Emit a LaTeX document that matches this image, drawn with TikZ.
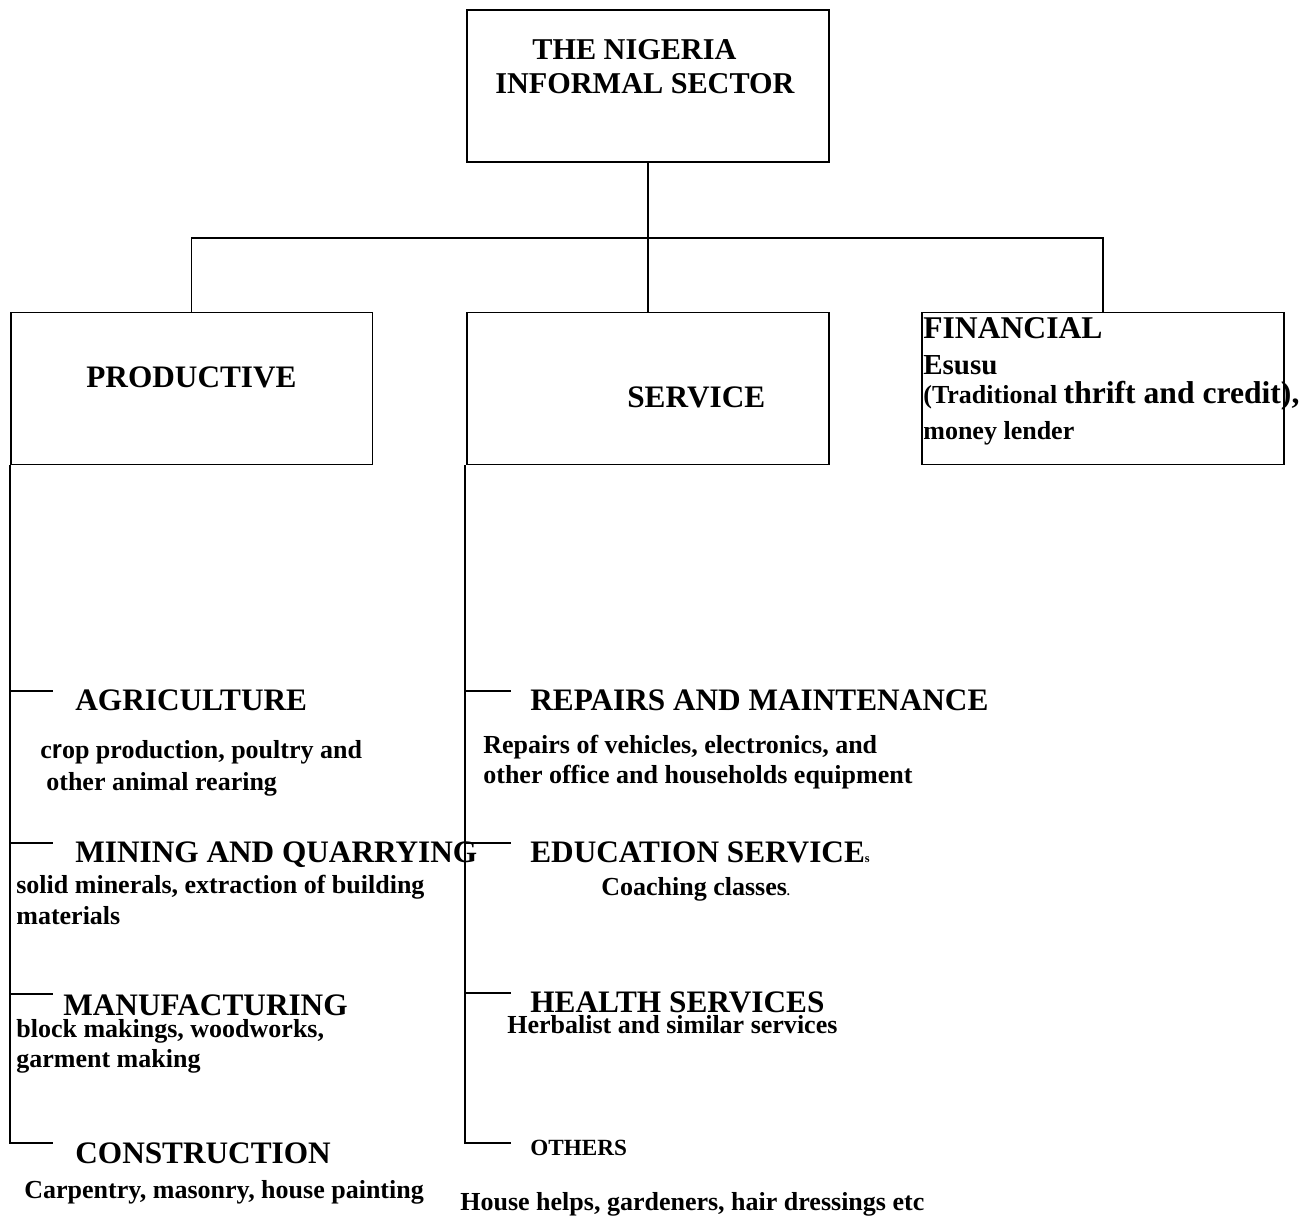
\documentclass[tikz,border=0pt]{standalone}
\usepackage{fontspec}
\setmainfont{Liberation Serif}
\newfontfamily\arialfont{Liberation Sans}

\begin{document}
\begin{tikzpicture}[x=0.02cm, y=-0.02cm]
\tikzset{boite/.style={draw, line width=1.1pt, minimum width=7.24cm, minimum height=3.04cm, inner sep=0pt},
  titre/.style={anchor=base west, inner sep=0pt, font=\bfseries\fontsize{17.8}{20}\selectfont},
  texte/.style={anchor=base west, inner sep=0pt, font=\bfseries\fontsize{14.8}{17}\selectfont},
  trait/.style={line width=1.1pt}}
\useasboundingbox (0,0) rectangle (1309,1228);
% boxes
\node[boite] (secteur) at (648,86) {};
\node[boite] (prod) at (191.5,388.5) {};
\node[boite] (serv) at (648,388.5) {};
\node[boite] (fin) at (1103,388.5) {};
\node[titre, font=\bfseries\fontsize{17.2}{20}\selectfont] (nig1) at (532,59) {THE NIGERIA};
\node[titre, font=\bfseries\fontsize{17.2}{20}\selectfont] (nig2) at (495,93) {INFORMAL SECTOR};
\node[titre] (tprod) at (86,387) {PRODUCTIVE};
\node[titre] (tserv) at (627,407) {SERVICE};
\node[titre, font=\bfseries\fontsize{18}{21}\selectfont] (tfin) at (923,338) {FINANCIAL};
\node[titre, font=\bfseries\fontsize{16.5}{19}\selectfont] (esusu) at (923,374) {Esusu};
\node[texte] (thrift) at (923,403) {(Traditional {\fontsize{18}{21}\selectfont thrift and credit),}};
\node[texte] (lender) at (923,439) {money lender};
% links
\coordinate (noeud) at (648,238);
\draw[trait] (secteur.south) -- (noeud);
\draw[trait] (prod.north) |- (noeud) -| (fin.north);
\draw[trait] (noeud) -- (serv.north);
% productive side
\coordinate (a4) at (53,1143);
\draw[trait] (prod.south west) |- (a4);
\foreach \y/\n in {691/1,843/2,994/3} {
  \coordinate (a\n) at (53,\y);
  \draw[trait] (prod.south west |- a\n) -- (a\n);
}
\node[titre] (agri) at (75,710) {AGRICULTURE};
\node[texte] (agri1) at (40,758) {c{\arialfont r}op production, poultry and};
\node[texte] (agri2) at (46,790) {other animal rearing};
\node[titre] (mine) at (75,862) {MINING AND QUARRYING};
\node[texte] (mine1) at (16,893) {solid minerals, extraction of building};
\node[texte] (mine2) at (16,924) {materials};
\node[titre] (manu) at (63,1015) {MANUFACTURING};
\node[texte] (manu1) at (16,1037) {block makings, woodworks,};
\node[texte] (manu2) at (16,1067) {garment making};
\node[titre] (cons) at (75,1163) {CONSTRUCTION};
\node[texte] (cons1) at (24,1198) {Carpentry, masonry, house painting};
% service side
\coordinate (b4) at (511,1143);
\draw[trait] (serv.south west) ++(-1.5,0) |- (b4);
\foreach \y/\n in {691/1,843/2,993/3} {
  \coordinate (b\n) at (511,\y);
  \draw[trait] (465.5,\y) -- (b\n);
}
\node[titre] (rep) at (530,710) {REPAIRS AND MAINTENANCE};
\node[texte] (rep1) at (483,753) {Repairs of vehicles, electronics, and};
\node[texte] (rep2) at (483,783) {other office and households equipment};
\node[titre] (edu) at (530,862) {EDUCATION SERVICE{\fontsize{7}{8}\selectfont s}};
\node[texte] (edu1) at (601,895) {Coaching classes{\fontsize{7}{8}\selectfont .}};
\node[titre] (health) at (530,1012) {HEALTH SERVICES};
\node[texte] (health1) at (507,1033) {Herbalist and similar services};
\node[texte, font=\bfseries\fontsize{13.2}{15}\selectfont] (autres) at (530,1155) {OTHERS};
\node[texte] (autres1) at (460,1210) {House helps, gardeners, hair dressings etc};
\end{tikzpicture}
\end{document}
